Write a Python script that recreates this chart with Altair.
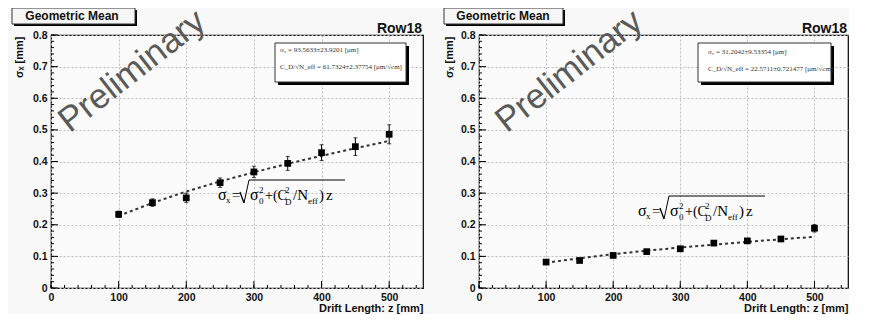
import altair as alt
import pandas as pd

# ---------------- data ----------------
z_vals = [100, 150, 200, 250, 300, 350, 400, 450, 500]

left_sigma = [0.233, 0.270, 0.285, 0.333, 0.367, 0.394, 0.428, 0.447, 0.486]
left_err = [0.010, 0.012, 0.015, 0.015, 0.018, 0.022, 0.025, 0.028, 0.030]
left_fit = [0.228, 0.269, 0.305, 0.337, 0.366, 0.393, 0.418, 0.442, 0.465]

right_sigma = [0.082, 0.087, 0.103, 0.115, 0.124, 0.142, 0.149, 0.155, 0.189]
right_err = [0.005, 0.005, 0.005, 0.006, 0.006, 0.006, 0.007, 0.008, 0.012]
right_fit = [0.080, 0.094, 0.107, 0.118, 0.128, 0.137, 0.146, 0.154, 0.162]

left_stats = ["σ₀ = 93.5633±23.9201 [μm]", "C_D/√N_eff = 61.7324±2.37754 [μm/√cm]"]
right_stats = ["σ₀ = 31.2042±9.53354 [μm]", "C_D/√N_eff = 22.5711±0.721477 [μm/√cm]"]

x_major = [0, 100, 200, 300, 400, 500]
y_major = [0, 0.1, 0.2, 0.3, 0.4, 0.5, 0.6, 0.7, 0.8]
x_minor = [i * 20 for i in range(28)]
y_minor = [round(i * 0.02, 2) for i in range(41)]

panel_title = "Geometric Mean"
row_label = "Row18"
watermark = "Preliminary"

# ---------------- styling ----------------
H = 253
SANS = "Liberation Sans"
SERIF = "Liberation Serif"
GRID = "#bcbcbc"


def one():
    return pd.DataFrame({"k": [0]})


def txt(x, y, t, size, font=SANS, weight="normal", align="left",
        baseline="alphabetic", color="black", angle=0):
    kw = dict(font=font, fontSize=size, fontWeight=weight, align=align,
              baseline=baseline, color=color)
    if angle:
        kw["angle"] = angle
    return alt.Chart(one()).mark_text(**kw).encode(
        x=alt.value(x), y=alt.value(y), text=alt.value(t))


def seg(x1, y1, x2, y2, color="black", width=1.0):
    return alt.Chart(one()).mark_rule(color=color, strokeWidth=width).encode(
        x=alt.value(x1), y=alt.value(y1), x2=alt.value(x2), y2=alt.value(y2))


def box(x1, y1, x2, y2, fill="white", shadow=3):
    sh = alt.Chart(one()).mark_rect(color="black").encode(
        x=alt.value(x1 + shadow), y=alt.value(y1 + shadow),
        x2=alt.value(x2 + shadow), y2=alt.value(y2 + shadow))
    fr = alt.Chart(one()).mark_rect(fill=fill, stroke="#333333", strokeWidth=1).encode(
        x=alt.value(x1), y=alt.value(y1), x2=alt.value(x2), y2=alt.value(y2))
    return [sh, fr]


def formula(x0, bl):
    layers = []
    pieces = [
        (0, 0, "σ", 16), (8, 3, "x", 9), (14, 0, "=", 15),
        (32, 0, "σ", 16), (41, 4, "0", 9), (41, -7, "2", 9),
        (47, 0, "+(C", 14), (67, -7, "2", 9), (67, 5, "D", 9),
        (75, 0, "/N", 15), (90, 4, "eff", 9), (101, 0, ")", 15), (108, 0, "z", 15),
    ]
    for dx, dy, t, s in pieces:
        layers.append(txt(x0 + dx, bl + dy, t, s, font=SERIF))
    layers.append(seg(x0 + 22, bl - 8, x0 + 26, bl + 3, width=1.3))
    layers.append(seg(x0 + 26, bl + 3, x0 + 31, bl - 20))
    layers.append(seg(x0 + 31, bl - 20, x0 + 127, bl - 20))
    return layers


def panel(sigma, err, fit, stats, W, box_x1, title_cx, ytitle_x, stats_box,
          stats_tx, stats_ty, prelim_c, f_x0, f_bl):
    df = pd.DataFrame({
        "z": z_vals, "s": sigma,
        "lo": [s - e for s, e in zip(sigma, err)],
        "hi": [s + e for s, e in zip(sigma, err)],
    })
    fdf = pd.DataFrame({"z": z_vals, "f": fit})
    xs = alt.Scale(domain=[0, 550], nice=False, zero=False)
    ys = alt.Scale(domain=[0, 0.8], nice=False)

    xaxis = alt.Axis(values=x_major, format="d", grid=True, gridColor=GRID,
                     gridDash=[2, 2], ticks=False, domain=False,
                     labelFont=SANS, labelFontWeight="bold", labelFontSize=10.5,
                     labelColor="#111", labelPadding=4, labelFlush=False,
                     title="Drift Length: z [mm]", titleAnchor="end",
                     titleFont=SANS, titleFontWeight="bold", titleFontSize=11,
                     titleColor="#111", titleY=23, titleBaseline="alphabetic")
    yaxis = alt.Axis(values=y_major, format=".1~f", grid=True, gridColor=GRID,
                     gridDash=[2, 2], ticks=False, domain=False,
                     labelFont=SANS, labelFontWeight="bold", labelFontSize=10.5,
                     labelColor="#111", labelPadding=4,
                     title="σₓ [mm]", titleFont=SANS, titleFontWeight="bold",
                     titleFontSize=11, titleColor="#111", titleAngle=270,
                     titleAlign="right", titleBaseline="middle",
                     titleX=ytitle_x, titleY=1)

    X = lambda f: alt.X(f, scale=xs, axis=xaxis)
    Y = lambda f: alt.Y(f, scale=ys, axis=yaxis)

    base = alt.Chart(df)
    layers = []
    # major/minor ticks drawn inward (ROOT style)
    layers.append(alt.Chart(pd.DataFrame({"v": y_minor})).mark_rule(color="black").encode(
        y=Y("v:Q"), x=alt.value(0), x2=alt.value(3)))
    layers.append(alt.Chart(pd.DataFrame({"v": y_major})).mark_rule(color="black").encode(
        y=Y("v:Q"), x=alt.value(0), x2=alt.value(7)))
    layers.append(alt.Chart(pd.DataFrame({"v": x_minor})).mark_rule(color="black").encode(
        x=X("v:Q"), y=alt.value(H), y2=alt.value(H - 3)))
    layers.append(alt.Chart(pd.DataFrame({"v": x_major})).mark_rule(color="black").encode(
        x=X("v:Q"), y=alt.value(H), y2=alt.value(H - 7)))

    # fit line
    layers.append(alt.Chart(fdf).mark_line(color="#333333", strokeWidth=2,
                                           strokeDash=[3, 3]).encode(
        x=X("z:Q"), y=Y("f:Q")))
    # error bars with small caps
    layers.append(base.mark_rule(color="black", strokeWidth=1).encode(
        x=X("z:Q"), y=Y("lo:Q"), y2="hi:Q"))
    layers.append(base.mark_tick(color="black", orient="horizontal", size=4,
                                 thickness=1).encode(x=X("z:Q"), y=Y("hi:Q")))
    layers.append(base.mark_tick(color="black", orient="horizontal", size=4,
                                 thickness=1).encode(x=X("z:Q"), y=Y("lo:Q")))
    # points
    layers.append(base.mark_square(color="black", size=45, opacity=1).encode(
        x=X("z:Q"), y=Y("s:Q")))

    # formula
    layers += formula(f_x0, f_bl)

    # stats box
    bx1, by1, bx2, by2 = stats_box
    layers += box(bx1, by1, bx2, by2, fill="white", shadow=3)
    layers.append(txt(stats_tx, stats_ty, stats[0], 7, font=SERIF, color="#333"))
    layers.append(txt(stats_tx, stats_ty + 17, stats[1], 7, font=SERIF, color="#333"))

    # watermark
    layers.append(txt(prelim_c[0], prelim_c[1], watermark, 35, font=SANS,
                      align="center", baseline="middle", color="#5a5a5a", angle=322))

    # title box + row label
    layers += box(box_x1, -27, 84, -11, fill="#f6f6f6", shadow=2)
    layers.append(txt(title_cx, -19, panel_title, 12, weight="bold",
                      align="center", baseline="middle", color="#111"))
    layers.append(txt(W - 1, -2, row_label, 14, weight="bold", align="right", color="#111"))

    return alt.layer(*layers).properties(width=W, height=H)


left = panel(left_sigma, left_err, left_fit, left_stats, 372,
             box_x1=-39, title_cx=21, ytitle_x=-32,
             stats_box=(224, 8, 355, 47), stats_tx=229, stats_ty=17,
             prelim_c=(81, 36), f_x0=167, f_bl=165)
right = panel(right_sigma, right_err, right_fit, right_stats, 369,
              box_x1=-35, title_cx=24, ytitle_x=-30,
              stats_box=(219, 8, 352, 47), stats_tx=229, stats_ty=19,
              prelim_c=(90, 36), f_x0=159, f_bl=181)

chart = alt.hconcat(left, right, spacing=18).properties(
    padding={"left": 2, "top": -5, "right": 0, "bottom": 0},
    background="#f8f8f8",
).configure_view(stroke="black", strokeWidth=1.2, fill="#fbfbfb")

chart.save("out.html", embed_options={"renderer": "svg", "actions": False})
